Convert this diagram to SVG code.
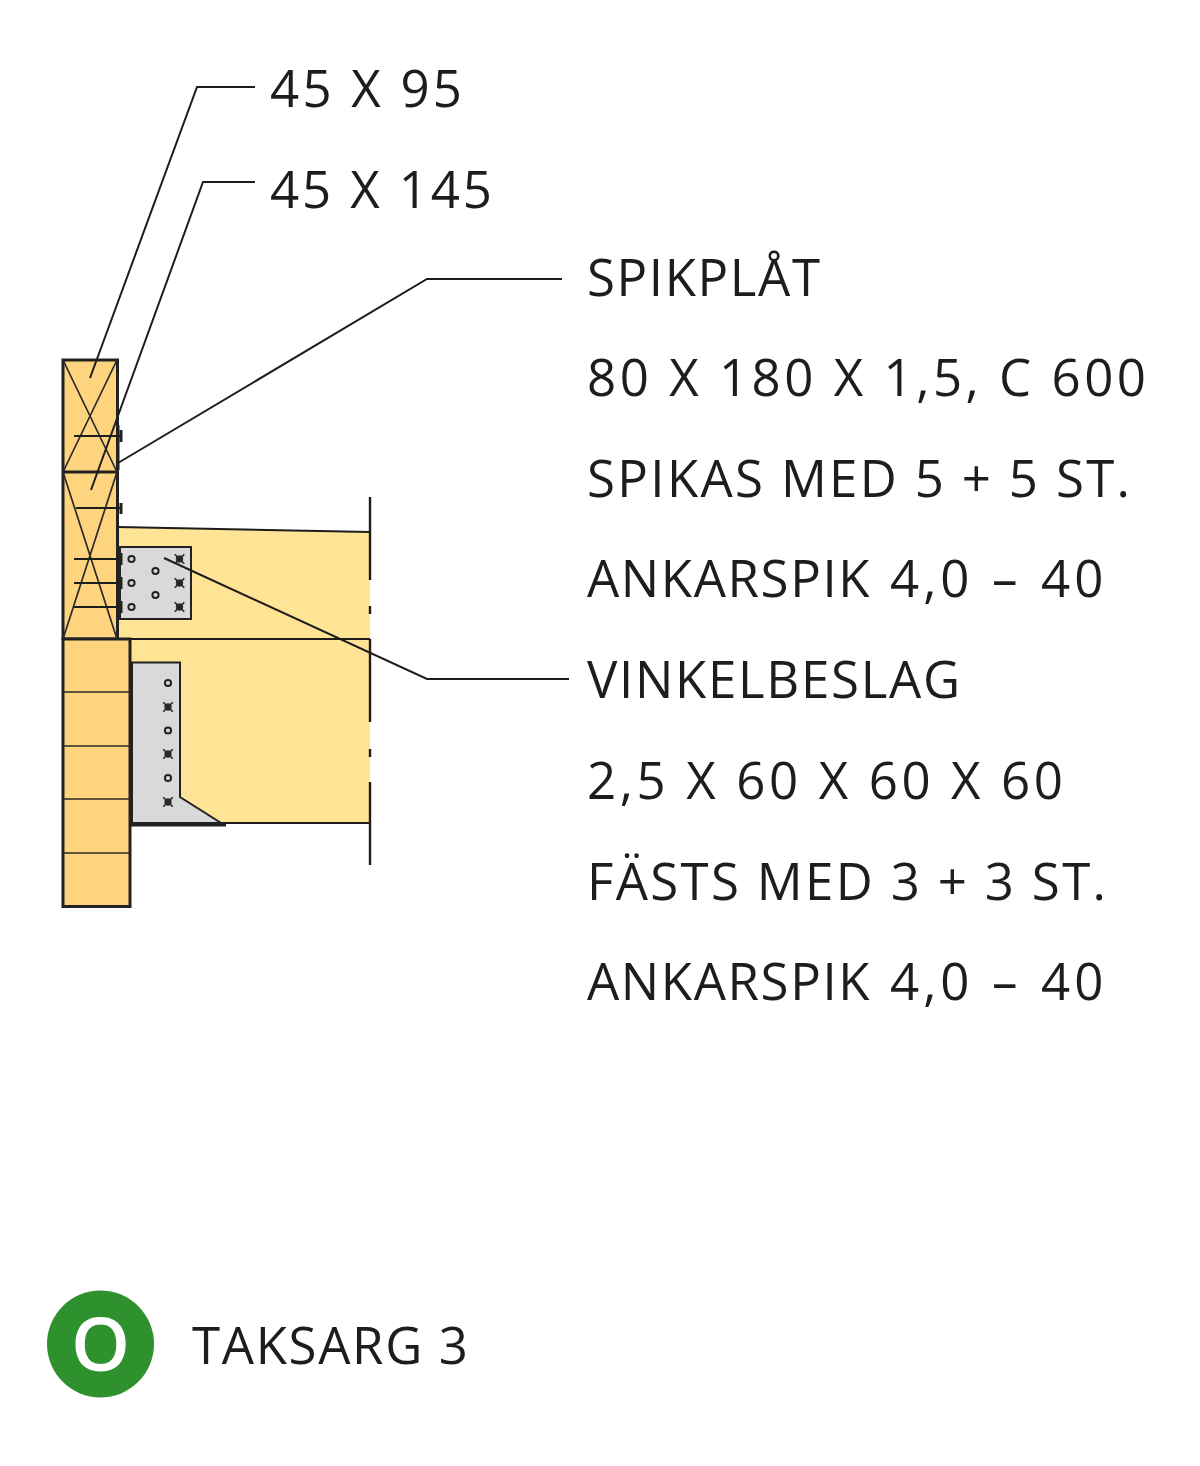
<svg xmlns="http://www.w3.org/2000/svg" width="1200" height="1466" viewBox="0 0 1200 1466">
<style>
.t{font-family:"Open Sans","Noto Sans","Liberation Sans",sans-serif;font-size:51px;fill:#1d1d1b}
.a{letter-spacing:1.600px}
.b{letter-spacing:4px}
.l{stroke:#1d1d1b;stroke-width:2;fill:none}
.m{stroke:#1d1d1b;stroke-width:2.400;fill:none}
.k{stroke:#2a2a2a;stroke-width:1.700;fill:none}
.o{stroke:#222;stroke-width:2;fill:none}
.s{stroke:#222;stroke-width:3;fill:none}
.wood{fill:#ffd47f;stroke:#222;stroke-width:3}
.steel{fill:#d9d9d9;stroke:#222;stroke-width:2}
</style>
<defs>
<g id="hole"><circle r="3.100" class="o"/></g>
<g id="nail"><circle r="3.700" fill="#333"/><path d="M-4.800-4.800L4.800 4.800M4.800-4.800L-4.800 4.800" stroke="#222" stroke-width="1.500"/></g>
</defs>
<g id="beam">
<path d="M118 527L370 532V823H130V639H118Z" fill="#ffe496"/>
<path d="M118 527L370 532M118 639H370M130 823H370" class="l"/>
<path d="M370 497V580M370 606V614M370 639V722M370 749V757M370 782V865" class="m"/>
</g>
<g id="studs">
<rect x="63" y="360" width="54.500" height="279" class="wood"/>
<path d="M63 472H118" class="s"/>
<path d="M63 360L117 472M117 360L63 472M63 472L117 639M117 472L63 639" class="k"/>
<rect x="63" y="639" width="67" height="267.500" class="wood"/>
<path d="M63 692H130M63 746H130M63 799H130M63 853H130" class="k"/>
</g>
<g id="nails">
<path d="M74 436H121M76 508H121M74 559H121M74 583H121M74 607H121" class="l"/>
<path d="M121 430V442M121 503V514" class="s"/>
<path d="M118 425V470" class="s"/>
</g>
<g id="spikplat">
<rect x="120" y="547" width="71" height="72" class="steel"/>
<path d="M118.500 547V619" class="s"/>
<path d="M121 553V565M121 577V589M121 601V613" class="s"/>
<use href="#hole" x="131.500" y="559"/><use href="#hole" x="131.500" y="583"/><use href="#hole" x="131.500" y="607"/>
<use href="#hole" x="155.500" y="571"/><use href="#hole" x="155.500" y="595"/>
<use href="#nail" x="179.500" y="559"/><use href="#nail" x="179.500" y="583"/><use href="#nail" x="179.500" y="607"/>
</g>
<g id="vinkelbeslag">
<path d="M132 662.500H180V797L221 823H132Z" class="steel"/>
<path d="M131.500 662V825H226" class="s"/>
<use href="#hole" x="168" y="683"/><use href="#hole" x="168" y="730.500"/><use href="#hole" x="168" y="778"/>
<use href="#nail" x="168" y="707"/><use href="#nail" x="168" y="754"/><use href="#nail" x="168" y="802"/>
</g>
<g id="connectors">
<path d="M255 87H197L90 378" class="l"/>
<path d="M255 182H203L91 490" class="l"/>
<path d="M562 279H427L118 463" class="l"/>
<path d="M569 679H427L164 558" class="l"/>
</g>
<g id="labels">
<text class="t" x="270" y="107" textLength="192">45 X 95</text>
<text class="t" x="270" y="208" textLength="222">45 X 145</text>
<text class="t" x="587" y="296" textLength="233">SPIKPLÅT</text>
<text class="t" x="587" y="396" textLength="559">80 X 180 X 1,5, C 600</text>
<text class="t" x="587" y="497" textLength="543">SPIKAS MED 5 + 5 ST.</text>
<text class="t a" y="597"><tspan x="587">ANKARSPIK</tspan> <tspan class="b" x="890">4,0</tspan> <tspan x="992">–</tspan> <tspan class="b" x="1041">40</tspan></text>
<text class="t" x="587" y="698" textLength="373">VINKELBESLAG</text>
<text class="t" x="587" y="799" textLength="476">2,5 X 60 X 60 X 60</text>
<text class="t" x="587" y="900" textLength="519">FÄSTS MED 3 + 3 ST.</text>
<text class="t a" y="1000"><tspan x="587">ANKARSPIK</tspan> <tspan class="b" x="890">4,0</tspan> <tspan x="992">–</tspan> <tspan class="b" x="1041">40</tspan></text>
</g>
<g id="badge">
<circle cx="100.500" cy="1344" r="53.500" fill="#2e912d"/>
<text x="100.500" y="1371" text-anchor="middle" font-family="'Open Sans','Noto Sans',sans-serif" font-weight="600" font-size="75" fill="#fff">O</text>
<text class="t" x="192" y="1364" textLength="276">TAKSARG 3</text>
</g>
</svg>
